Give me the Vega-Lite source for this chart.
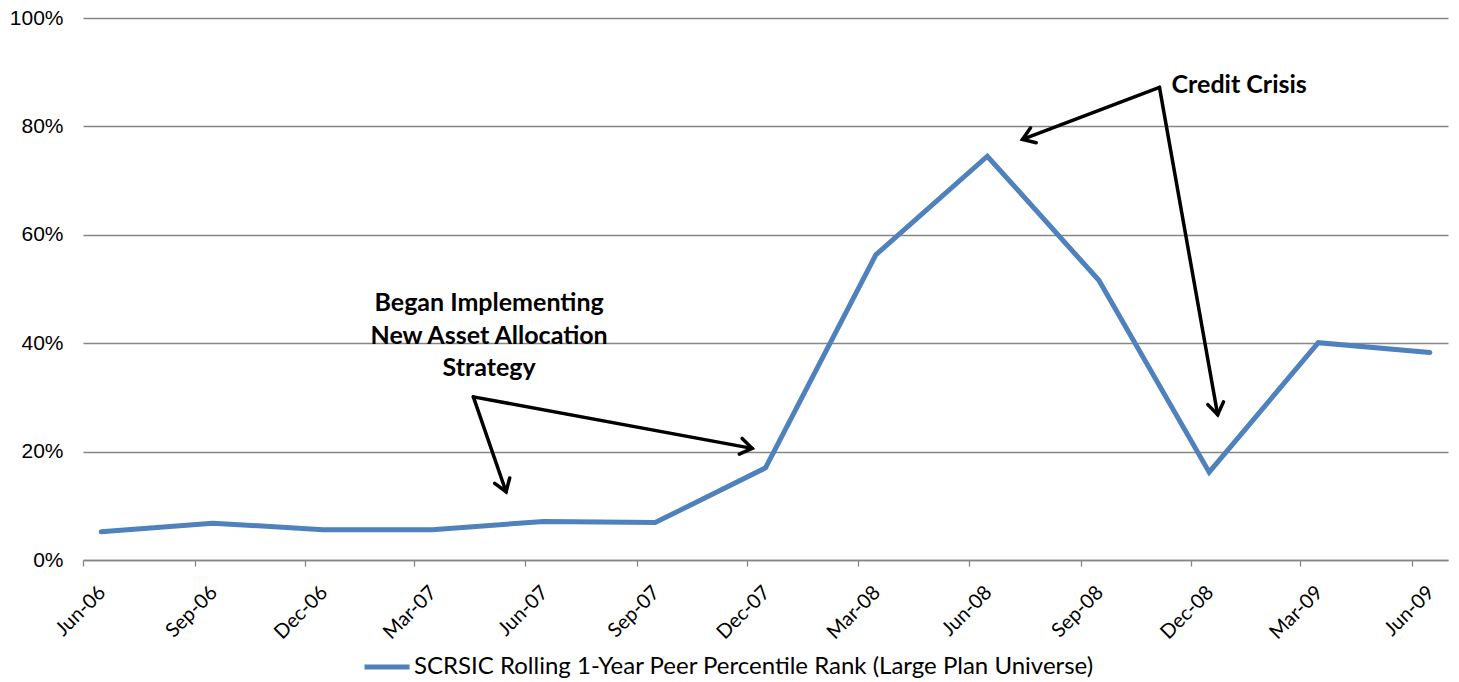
{
  "$schema": "https://vega.github.io/schema/vega-lite/v6.json",
  "autosize": {"type": "none"},
  "padding": {"left": 83, "top": 18, "right": 11, "bottom": 122},
  "width": 1365,
  "height": 542,
  "background": "white",
  "config": {"view": {"stroke": null}},
  "datasets": {
    "rank": [
      {"date": "2006-06-16", "rank": 0.052},
      {"date": "2006-09-16", "rank": 0.068},
      {"date": "2006-12-16", "rank": 0.056},
      {"date": "2007-03-16", "rank": 0.056},
      {"date": "2007-06-16", "rank": 0.071},
      {"date": "2007-09-16", "rank": 0.069},
      {"date": "2007-12-16", "rank": 0.170},
      {"date": "2008-03-16", "rank": 0.563},
      {"date": "2008-06-16", "rank": 0.745},
      {"date": "2008-09-16", "rank": 0.516},
      {"date": "2008-12-16", "rank": 0.162},
      {"date": "2009-03-16", "rank": 0.401},
      {"date": "2009-06-16", "rank": 0.383}
    ],
    "arrows": [
      {"arrow": "a1", "date": "2007-04-19", "rank": 0.301, "date2": "2007-05-16", "rank2": 0.126},
      {"arrow": "a2", "date": "2007-04-19", "rank": 0.301, "date2": "2007-12-05", "rank2": 0.206},
      {"arrow": "a3", "date": "2008-11-05", "rank": 0.872, "date2": "2008-07-15", "rank2": 0.776},
      {"arrow": "a4", "date": "2008-11-05", "rank": 0.872, "date2": "2008-12-23", "rank2": 0.268}
    ],
    "notes": [
      {"date": "2007-05-02", "rank": 0.474, "note": "Began Implementing\nNew Asset Allocation\nStrategy", "align": "center"},
      {"date": "2008-11-15", "rank": 0.877, "note": "Credit Crisis", "align": "left"}
    ]
  },
  "encoding": {
    "x": {
      "field": "date",
      "type": "temporal",
      "scale": {
        "type": "utc",
        "domain": [
          {"year": 2006, "month": 6, "date": 1, "utc": true},
          {"year": 2009, "month": 7, "date": 1, "utc": true}
        ]
      },
      "axis": {
        "title": null,
        "format": "%b-%y",
        "values": [
          {"year": 2006, "month": 6, "date": 1, "utc": true},
          {"year": 2006, "month": 9, "date": 1, "utc": true},
          {"year": 2006, "month": 12, "date": 1, "utc": true},
          {"year": 2007, "month": 3, "date": 1, "utc": true},
          {"year": 2007, "month": 6, "date": 1, "utc": true},
          {"year": 2007, "month": 9, "date": 1, "utc": true},
          {"year": 2007, "month": 12, "date": 1, "utc": true},
          {"year": 2008, "month": 3, "date": 1, "utc": true},
          {"year": 2008, "month": 6, "date": 1, "utc": true},
          {"year": 2008, "month": 9, "date": 1, "utc": true},
          {"year": 2008, "month": 12, "date": 1, "utc": true},
          {"year": 2009, "month": 3, "date": 1, "utc": true},
          {"year": 2009, "month": 6, "date": 1, "utc": true}
        ],
        "grid": false,
        "domainColor": "#868686",
        "domainWidth": 1.3,
        "tickColor": "#868686",
        "tickWidth": 1.3,
        "tickSize": 6,
        "labelAngle": -45,
        "labelFont": "Lato",
        "labelFontSize": 20,
        "labelColor": "#000000",
        "labelPadding": 16,
        "labelOffset": 12,
        "labelOverlap": false,
        "labelFlush": false
      }
    },
    "y": {
      "field": "rank",
      "type": "quantitative",
      "scale": {"domain": [0, 1], "nice": false, "zero": true},
      "axis": {
        "title": null,
        "values": [0, 0.2, 0.4, 0.6, 0.8, 1],
        "format": ".0%",
        "grid": true,
        "gridColor": "#868686",
        "gridWidth": 1.3,
        "domain": false,
        "ticks": false,
        "labelFont": "Liberation Sans",
        "labelFontSize": 21,
        "labelColor": "#000000",
        "labelPadding": 20
      }
    }
  },
  "layer": [
    {
      "data": {"name": "rank"},
      "mark": {"type": "line", "strokeWidth": 5, "strokeCap": "round"},
      "encoding": {
        "color": {
          "datum": "SCRSIC Rolling 1-Year Peer Percentile Rank (Large Plan Universe)",
          "scale": {"range": ["#4F81BD"]},
          "legend": {
            "title": null,
            "orient": "none",
            "legendX": 279,
            "legendY": 624,
            "symbolType": "stroke",
            "symbolSize": 2025,
            "symbolStrokeWidth": 5,
            "labelFont": "Lato",
            "labelFontSize": 24,
            "labelColor": "#000000",
            "labelOffset": 2,
            "labelLimit": 0
          }
        }
      }
    },
    {
      "data": {"name": "arrows"},
      "mark": {"type": "rule", "color": "#000000", "strokeWidth": 3.5, "strokeCap": "round"},
      "encoding": {
        "x2": {"field": "date2"},
        "y2": {"field": "rank2"}
      }
    },
    {
      "data": {"values": [{"date": "2007-05-16", "rank": 0.126}]},
      "mark": {"type": "point", "shape": "M-0.75,1.1L0,0L0.75,1.1", "filled": false, "stroke": "#000000", "strokeWidth": 3.5, "strokeCap": "round", "size": 450, "angle": 160.6, "opacity": 1}
    },
    {
      "data": {"values": [{"date": "2007-12-05", "rank": 0.206}]},
      "mark": {"type": "point", "shape": "M-0.75,1.1L0,0L0.75,1.1", "filled": false, "stroke": "#000000", "strokeWidth": 3.5, "strokeCap": "round", "size": 450, "angle": 100.4, "opacity": 1}
    },
    {
      "data": {"values": [{"date": "2008-07-15", "rank": 0.776}]},
      "mark": {"type": "point", "shape": "M-0.75,1.1L0,0L0.75,1.1", "filled": false, "stroke": "#000000", "strokeWidth": 3.5, "strokeCap": "round", "size": 450, "angle": 249.2, "opacity": 1}
    },
    {
      "data": {"values": [{"date": "2008-12-23", "rank": 0.268}]},
      "mark": {"type": "point", "shape": "M-0.75,1.1L0,0L0.75,1.1", "filled": false, "stroke": "#000000", "strokeWidth": 3.5, "strokeCap": "round", "size": 450, "angle": 170.0, "opacity": 1}
    },
    {
      "data": {"name": "notes"},
      "transform": [{"filter": "datum.align == 'center'"}],
      "mark": {"type": "text", "align": "center", "baseline": "middle", "font": "Lato", "fontWeight": "bold", "fontSize": 25, "lineBreak": "\n", "lineHeight": 32.5, "color": "#000000"},
      "encoding": {"text": {"field": "note"}}
    },
    {
      "data": {"name": "notes"},
      "transform": [{"filter": "datum.align == 'left'"}],
      "mark": {"type": "text", "align": "left", "baseline": "middle", "font": "Lato", "fontWeight": "bold", "fontSize": 25, "color": "#000000"},
      "encoding": {"text": {"field": "note"}}
    }
  ]
}
